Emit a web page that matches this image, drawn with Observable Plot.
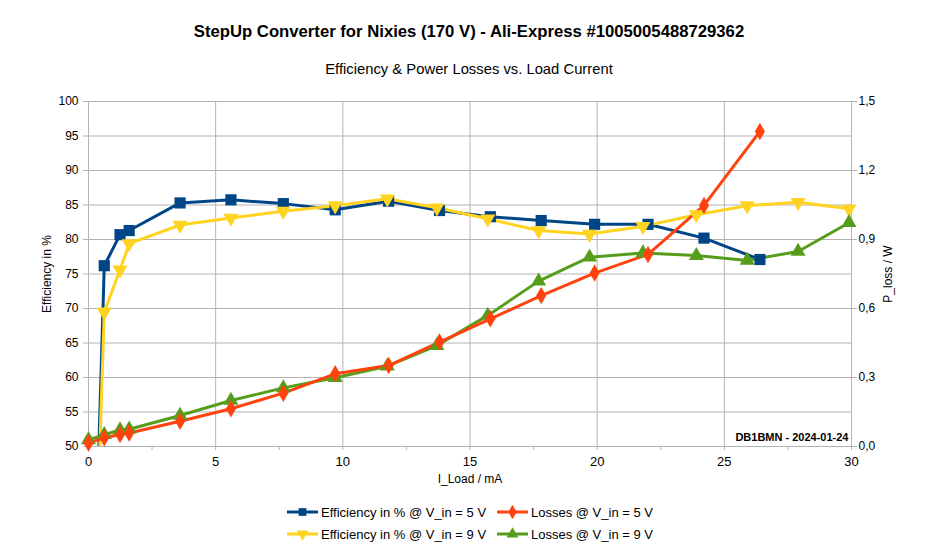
<!DOCTYPE html>
<html>
<head>
<meta charset="utf-8">
<script src="https://cdn.jsdelivr.net/npm/d3@7"></script>
<script src="https://cdn.jsdelivr.net/npm/@observablehq/plot@0.6"></script>
<style>
  html, body { margin: 0; padding: 0; background: #fff; }
  body { width: 938px; height: 550px; position: relative; overflow: hidden; font-family: "Liberation Sans", Arial, sans-serif; }
  #title { position: absolute; top: 22px; left: 0; width: 938px; text-align: center; font-weight: bold; font-size: 16.7px; color: #000; }
  #subtitle { position: absolute; top: 61px; left: 0; width: 938px; text-align: center; font-size: 14.8px; color: #000; }
  #chart { position: absolute; top: 85px; left: 0; }
  #legend { position: absolute; top: 503px; left: 287px; display: grid; grid-template-columns: 210px 200px; row-gap: 4px; font-size: 13px; color: #000; }
  .item { display: flex; align-items: center; height: 18px; }
  .item svg { margin-right: 3px; }
</style>
</head>
<body>
<div id="title">StepUp Converter for Nixies (170 V) - Ali-Express #1005005488729362</div>
<div id="subtitle">Efficiency &amp; Power Losses vs. Load Current</div>
<div id="chart"></div>
<div id="legend"></div>
<script>
// ---- data ----
const seriesNames = ["Efficiency in % @ V_in = 5 V", "Losses @ V_in = 5 V", "Efficiency in % @ V_in = 9 V", "Losses @ V_in = 9 V"];
const load5 = [0, 0.62, 1.24, 1.6, 3.6, 5.6, 7.66, 9.7, 11.8, 13.8, 15.8, 17.8, 19.9, 22.0, 24.2, 26.4];
const eff5  = [0, 76.2, 80.7, 81.3, 85.3, 85.75, 85.2, 84.3, 85.55, 84.2, 83.3, 82.75, 82.2, 82.2, 80.2, 77.1];
const loss5 = [0.015, 0.038, 0.052, 0.059, 0.11, 0.164, 0.232, 0.316, 0.352, 0.454, 0.555, 0.656, 0.754, 0.835, 1.048, 1.37];
const load9 = [0, 0.62, 1.24, 1.6, 3.6, 5.6, 7.66, 9.7, 11.75, 13.7, 15.7, 17.7, 19.7, 21.8, 23.9, 25.9, 27.9, 29.9];
const eff9  = [0, 69.5, 75.6, 79.4, 82.1, 83.1, 84.1, 84.9, 85.9, 84.6, 83.0, 81.3, 80.8, 81.9, 83.6, 84.9, 85.4, 84.45];
const loss9 = [0.029, 0.051, 0.072, 0.075, 0.135, 0.2, 0.255, 0.299, 0.349, 0.439, 0.57, 0.719, 0.823, 0.841, 0.83, 0.809, 0.848, 0.973];
const effTicks = [50, 55, 60, 65, 70, 75, 80, 85, 90, 95, 100];
const lossTicks = [0, 0.3, 0.6, 0.9, 1.2, 1.5];
const xTicks = [0, 5, 10, 15, 20, 25, 30];
const xMinorTicks = [0, 2.5, 5, 7.5, 10, 12.5, 15, 17.5, 20, 22.5, 25, 27.5, 30];
const note = "DB1BMN - 2024-01-24";

const colors = ["#004586", "#ff420e", "#ffd320", "#579d1c"];

// secondary axis mapping: 0 W -> 50 %, 1.5 W -> 100 %
const lossToEff = w => 50 + w / 0.03;

const triDown = {
  draw(ctx, size) {
    const y = -Math.sqrt(size / (Math.sqrt(3) * 3));
    ctx.moveTo(0, -y * 2);
    ctx.lineTo(-Math.sqrt(3) * y, y);
    ctx.lineTo(Math.sqrt(3) * y, y);
    ctx.closePath();
  }
};

const e5 = load5.map((x, i) => ({x, y: eff5[i]}));
const l5 = load5.map((x, i) => ({x, y: lossToEff(loss5[i])}));
const e9 = load9.map((x, i) => ({x, y: eff9[i]}));
const l9 = load9.map((x, i) => ({x, y: lossToEff(loss9[i])}));

const series = [
  {data: e5, color: colors[0], symbol: "square", r: 6.3},
  {data: e9, color: colors[2], symbol: triDown, r: 5.6},
  {data: l9, color: colors[3], symbol: "triangle", r: 5.6},
  {data: l5, color: colors[1], symbol: "diamond", r: 5.3},
];

const marks = [
  Plot.ruleY(effTicks, {y: d => d, stroke: "#b3b3b3", strokeWidth: 1}),
  Plot.ruleX(xTicks, {x: d => d, stroke: "#b3b3b3", strokeWidth: 1}),
  Plot.axisX(xMinorTicks, {tickSize: 4, tickPadding: 6, tickFormat: d => (d % 5 === 0 ? String(d) : ""), stroke: "#b3b3b3", label: null, fontSize: 13}),
  Plot.axisY(effTicks, {anchor: "left", tickSize: 5, tickPadding: 5, stroke: "#b3b3b3", label: "Efficiency in %", labelAnchor: "center", labelArrow: "none", labelOffset: 46, fontSize: 12}),
  Plot.axisY(lossTicks.map(lossToEff), {anchor: "right", tickSize: 5, tickPadding: 2, stroke: "#b3b3b3", tickFormat: d => ((d - 50) * 0.03).toFixed(1).replace(".", ","), label: "P_loss / W", labelAnchor: "center", labelArrow: "none", labelOffset: 40, labelRotate: -90, fontSize: 12}),
  Plot.text(["I_Load / mA"], {text: d => d, frameAnchor: "bottom", dy: 36, fontSize: 12, fill: "#000"}),
];
for (const s of series) {
  marks.push(Plot.line(s.data, {x: "x", y: "y", stroke: s.color, strokeWidth: 3, clip: true}));
}
for (const s of series) {
  marks.push(Plot.dot(s.data.filter(d => d.y >= 50), {x: "x", y: "y", fill: s.color, stroke: "none", symbol: s.symbol, r: s.r}));
}
marks.push(Plot.text([note], {text: d => d, frameAnchor: "bottom-right", dx: -3, dy: -6, fontWeight: "bold", fontSize: 11, fill: "#000"}));

const chart = Plot.plot({
  width: 938,
  height: 415,
  marginTop: 16,
  marginBottom: 54,
  marginLeft: 88,
  marginRight: 87,
  x: {domain: [0, 30]},
  y: {domain: [50, 100]},
  style: {fontFamily: "'Liberation Sans', Arial, sans-serif", fontSize: "13px", color: "#000", background: "transparent"},
  marks
});
document.getElementById("chart").appendChild(chart);

// legend
const legend = document.getElementById("legend");
const symbolsFor = [series[0], series[3], series[1], series[2]];
[0, 1, 2, 3].forEach(i => {
  const s = symbolsFor[i];
  const item = document.createElement("div");
  item.className = "item";
  const svg = d3.create("svg").attr("width", 31).attr("height", 14);
  svg.append("line").attr("x1", 0).attr("x2", 31).attr("y1", 7).attr("y2", 7).attr("stroke", s.color).attr("stroke-width", 3);
  const sym = typeof s.symbol === "string" ? ({square: d3.symbolSquare, diamond: d3.symbolDiamond, triangle: d3.symbolTriangle})[s.symbol] : s.symbol;
  svg.append("path").attr("transform", "translate(15.5,7)").attr("d", d3.symbol(sym, 60)()).attr("fill", s.color);
  item.appendChild(svg.node());
  const span = document.createElement("span");
  span.textContent = seriesNames[i];
  item.appendChild(span);
  legend.appendChild(item);
});
</script>
</body>
</html>
